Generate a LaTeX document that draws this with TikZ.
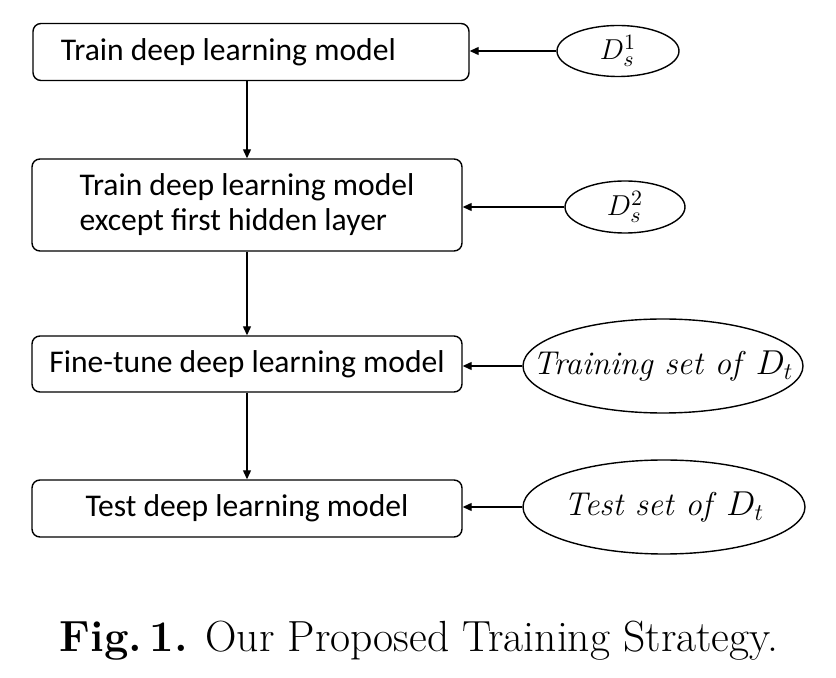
\documentclass[tikz,border=0pt]{standalone}
\usepackage{fontspec}
\usetikzlibrary{shapes.geometric,arrows.meta}
\newfontfamily\carlito{Carlito}
\begin{document}
\begin{tikzpicture}[x=0.5pt,y=-0.5pt,
  boxnode/.style={draw, rounded corners=4pt, line width=0.7pt, font=\carlito\fontsize{15.8}{17.5}\selectfont, inner ysep=0pt},
  ellnode/.style={draw, ellipse, line width=0.7pt, inner sep=0pt},
  elltext/.style={inner sep=0pt},
  arr/.style={-{Triangle[length=4.5pt,width=4pt]}, line width=0.6pt}]
\useasboundingbox (0,0) rectangle (836,678);
\node[boxnode, minimum height=28.5pt, text width=190pt, inner xsep=14pt, align=flush left] (b1) at (251,52) {Train deep learning model};
\node[boxnode, minimum height=46pt, minimum width=215pt, align=flush left] (b2) at (247,205) {Train deep learning model\\except first hidden layer};
\node[boxnode, minimum height=28pt, minimum width=215pt] (b3) at (247,364) {Fine-tune deep learning model};
\node[boxnode, minimum height=28.5pt, minimum width=215pt] (b4) at (247,508.5) {Test deep learning model};
\node[ellnode, minimum width=61pt, minimum height=25.5pt] (e1) at (618,51) {};
\node[ellnode, minimum width=60pt, minimum height=26pt] (e2) at (625,207) {};
\node[ellnode, minimum width=140pt, minimum height=47pt] (e3) at (663,366) {};
\node[ellnode, minimum width=141pt, minimum height=47pt] (e4) at (664,507) {};
\node[elltext, font=\fontsize{15}{17}\selectfont] (t1) at (e1.center) {$D_s^1$};
\node[elltext, font=\fontsize{15}{17}\selectfont] (t2) at (e2.center) {$D_s^2$};
\node[elltext, font=\fontsize{16.5}{18}\selectfont] (t3) at (e3.center) {\textit{Training set of} $D_t$};
\node[elltext, font=\fontsize{16.5}{18}\selectfont] (t4) at (e4.center) {\textit{Test set of} $D_t$};
\draw[arr] (b1.south -| b2.north) -- (b2.north);
\draw[arr] (b2) -- (b3);
\draw[arr] (b3) -- (b4);
\draw[arr] (e1.west) -- (e1.west -| b1.east);
\draw[arr] (e2.west) -- (e2.west -| b2.east);
\draw[arr] (e3.west) -- (e3.west -| b3.east);
\draw[arr] (e4.west) -- (e4.west -| b4.east);
\node[anchor=base, font=\fontsize{21.8}{25}\selectfont, inner sep=0pt] (cap) at (419,652) {\textbf{Fig.\,1.} Our Proposed Training Strategy.};
\end{tikzpicture}
\end{document}
